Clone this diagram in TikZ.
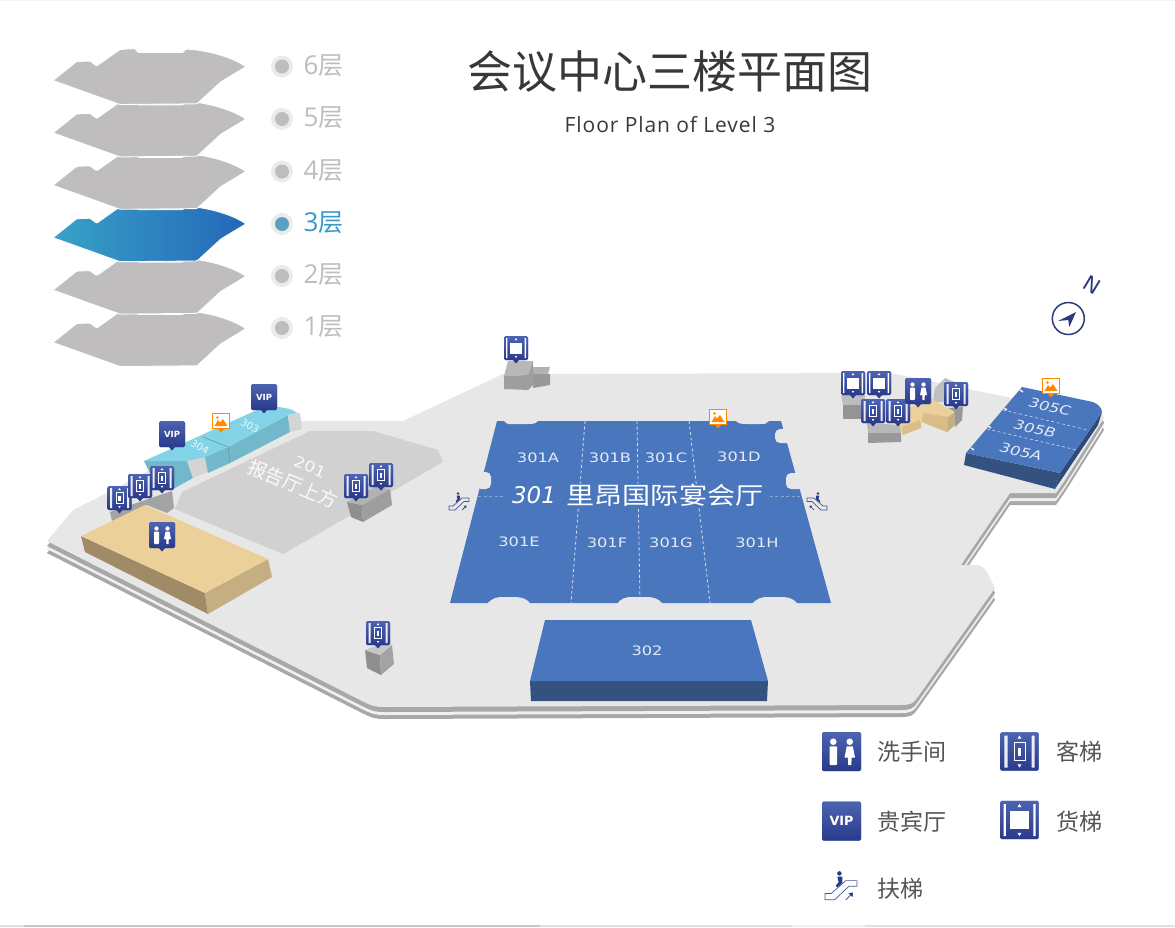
\documentclass[tikz,border=0pt]{standalone}
\usepackage{fontspec}
\setmainfont{DejaVu Sans}
\newfontfamily\cjk{Noto Sans CJK SC}
\newfontfamily\opensans{Open Sans}
\newfontfamily\opensub[LetterSpace=4.3]{Open Sans}
\usetikzlibrary{shadings}
\definecolor{floorc}{HTML}{E7E7E7}
\definecolor{bandc}{HTML}{A8A8A8}
\definecolor{hallc}{HTML}{4A76BD}
\definecolor{hallside}{HTML}{34527F}
\definecolor{hallright}{HTML}{2F4A78}
\definecolor{slabc}{HTML}{BFBDBE}
\definecolor{ic1}{HTML}{4C64B2}
\definecolor{ic2}{HTML}{2A3A8A}
\definecolor{orangec}{HTML}{FF8A00}
\definecolor{legtext}{HTML}{555555}
\definecolor{greytext}{HTML}{BDBDBD}
\definecolor{teal1}{HTML}{83D3E6}
\definecolor{teal2}{HTML}{72B8CB}
\definecolor{tan1}{HTML}{ECD09A}
\definecolor{tan2}{HTML}{A08A68}
\definecolor{tan3}{HTML}{C5AE82}
\definecolor{tan4}{HTML}{D9BC86}
\definecolor{navy}{HTML}{2C3A7A}
\definecolor{sel1}{HTML}{38A2C8}
\definecolor{sel2}{HTML}{2467B8}
\definecolor{sel3}{HTML}{5B9FC3}
\definecolor{sel4}{HTML}{3A97C9}
\def\floorpath{(47,541) -- (73,510) -- (107,493) -- (150,470) -- (300,421) -- (403,421) -- (503,374) -- (890,373) -- (1012,398) -- (1022,388) -- (1100,408) -- (1104,418) -- (1065,480) -- (1056,493) -- (1010,493) -- (961,565) -- (975,565) .. controls (985,565) and (987,572) .. (995,588) -- (917,698) .. controls (913,704) and (910,705) .. (900,705) -- (385,707) .. controls (375,707) and (372,706) .. (362,701) -- cycle}
\def\slabpath{(53,80.5) -- (76.7,61.5) -- (90,61) -- (96.7,66) -- (120,49.5) -- (135,48.5) -- (138,52.5) -- (183,52.5) -- (185.7,49) .. controls (205,50) and (230,56) .. (246,66.7) -- (221,81.7) -- (212,90) -- (197,103.8) -- (120,104.5) -- cycle}
\tikzset{
  base/.style={fill=ic1,rounded corners=1.5pt,top color=ic1,bottom color=ic2,draw=none},
  wh/.style={fill=white,draw=none},
  roomlab/.style={text=white,opacity=.85,font=\fontsize{13}{13}\selectfont,xscale=1.25,inner sep=0pt},
  cjklab/.style={text=legtext,font=\cjk\fontsize{23}{23}\selectfont,inner sep=0pt},
  floorlab/.style={text=greytext,font=\opensans\fontsize{26}{26}\selectfont,inner sep=0pt},
  notch/.style={fill=floorc,draw=none},
  dash1/.style={draw=white,opacity=.75,dashed,dash pattern=on 3pt off 2.5pt,line width=.8pt},
  pics/lift/.style={code={
    \path[base] (-12,-12) rectangle (12,12);
    \path[fill=white,fill opacity=.9] (-9.5,-10) rectangle (-7.5,10) (7.5,-10) rectangle (9.5,10);
    \draw[white,line width=.8pt] (-3.5,-5.5) rectangle (3.5,5.5);
    \path[wh] (-1.2,-2.5) rectangle (1.2,2.5);
    \path[wh] (0,-10) -- (1.3,-8) -- (-1.3,-8) -- cycle (0,10) -- (1.3,8) -- (-1.3,8) -- cycle;
  }},
  pics/freight/.style={code={
    \path[base] (-12,-12) rectangle (12,12);
    \path[wh] (-10,-10) rectangle (-8.6,10) (8.6,-10) rectangle (10,10);
    \path[wh] (-6,-5.5) rectangle (6,5.5);
    \path[wh] (0,-10) -- (1.3,-8) -- (-1.3,-8) -- cycle (0,10) -- (1.3,8) -- (-1.3,8) -- cycle;
  }},
  pics/wc/.style={code={
    \path[base] (-13,-13) rectangle (13,13);
    \path[wh] (-5.5,-6.5) circle (2.2) (5.5,-6.5) circle (2.2);
    \path[wh,rounded corners=.8pt] (-8,-3.5) rectangle (-3,9);
    \path[wh] (3.5,-3.5) -- (7.5,-3.5) -- (9,4) -- (6.8,4) -- (6.5,9) -- (4.5,9) -- (4.2,4) -- (2,4) -- cycle;
  }},
  pics/vip/.style={code={
    \path[base] (-13,-13) rectangle (13,13);
    \node[text=white,font=\fontsize{8.5}{8.5}\selectfont\bfseries,inner sep=0pt,transform shape] at (0,0) {VIP};
  }},
  pics/pin/.style={code={\path[fill=ic2] (-3,0) -- (3,0) -- (0,3.5) -- cycle;}},
  pics/photo/.style={code={
    \path[fill=orangec] (-3,8) -- (3,8) -- (0,11.5) -- cycle;
    \draw[orangec,fill=white,line width=1.4pt] (-8.5,-7.5) rectangle (8.5,7.5);
    \path[fill=orangec] (-6.5,5) -- (-3,-1) -- (-1,1.5) -- (2,-2) -- (6.5,5) -- cycle;
    \path[fill=orangec] (-3.5,-3.5) circle (1.4);
  }},
  pics/esc/.style={code={
    \draw[ic1!85!black,line width=.7pt,line join=round] (-10,4) -- (-6,4) -- (3,-4) -- (10,-4) -- (10,-.5) -- (5,-.5) -- (-4,8) -- (-10,8) -- cycle;
    \path[fill=ic2] (-1,-8.5) circle (1.4);
    \path[fill=ic2] (-2.3,-6.5) -- (.8,-6.5) -- (.8,-2.5) -- (-2.3,.3) -- (-3.3,-.8) -- (-1.5,-3) -- cycle;
    \draw[ic2,line width=.7pt] (3,8) -- (6.5,4.5);
    \path[fill=ic2] (7.5,3.5) -- (7.2,6.3) -- (4.7,3.8) -- cycle;
  }},
}
\begin{document}
\begin{tikzpicture}[x=1pt,y=-1pt]
\useasboundingbox (0,0) rectangle (1175,927);
% page edges
\path[fill=black!4] (0,0) rectangle (1175,1);
\path[fill=black!12] (0,925) rectangle (24,927);
\path[fill=black!22] (24,925) rectangle (540,927);
\path[fill=black!12] (540,925) rectangle (792,927);
\path[fill=black!6] (792,925) rectangle (865,927);
\path[fill=black!12] (865,925) rectangle (1175,927);

% floor
\begin{scope}[yshift=-12pt]\path[fill=bandc] \floorpath;\end{scope}
\begin{scope}[yshift=-8pt]\path[fill=black!6] \floorpath;\end{scope}
\begin{scope}[yshift=-5pt]\path[fill=bandc] \floorpath;\end{scope}
\path[fill=floorc] \floorpath;

% hall 201
\path[fill=black!18] (310,431) -- (373,431) -- (438,450) -- (443,462) -- (283,554) -- (175,509) -- (182,492) -- cycle;
\node[rotate=-23,xscale=1.15,text=white,opacity=.9,font=\fontsize{15}{15}\selectfont,inner sep=0pt] (t201) at (310,467) {201};
\node[rotate=-23,text=white,opacity=.9,font=\cjk\fontsize{19}{19}\selectfont,inner sep=0pt] (t201b) at (293,484) {报告厅上方};

% grey cube under left lifts
\path[fill=black!36] (110,512) -- (172,491) -- (174,508) -- (167,513) -- (147,505) -- (112,521) -- cycle;
% toilets left
\path[fill=tan2] (81,536) -- (205,593) -- (208,614) -- (85,552) -- cycle;
\path[fill=tan3] (205,593) -- (268,559) -- (272,577) -- (208,614) -- cycle;
\path[fill=tan1] (81,536) -- (145,505) -- (268,559) -- (205,593) -- cycle;

% 303 304
\path[fill=teal2] (144,461) -- (187,461) -- (193,478) -- (175,488) -- (150,473) -- cycle;
\path[fill=black!17] (187,460) -- (205,455) -- (208,472) -- (193,478) -- cycle;
\path[fill=teal2] (205,457) -- (228,447) -- (230,463) -- (208,473) -- cycle;
\path[fill=teal2] (228,447) -- (288,415) -- (290,432) -- (230,463) -- cycle;
\path[fill=black!17] (288,415) -- (300,413) -- (302,429) -- (290,432) -- cycle;
\path[fill=teal1] (144,461) -- (268,405) -- (290,409) -- (298,413) -- (288,415) -- (228,447) -- (205,457) -- (187,461) -- cycle;
\draw[teal2!80!black,line width=.5pt] (203,437) -- (228,447) -- (230,463);
\node[rotate=-30,text=white,opacity=.85,inner sep=0pt,font=\fontsize{10}{10}\selectfont] (r303) at (250,426) {303};
\node[rotate=-30,text=white,opacity=.85,inner sep=0pt,font=\fontsize{10}{10}\selectfont] (r304) at (200,447) {304};

% cube by 201
\path[fill=black!44] (347,502) -- (362,505) -- (363,522) -- (351,517) -- cycle;
\path[fill=black!38] (362,505) -- (390,489) -- (392,505) -- (363,522) -- cycle;
\path[fill=black!30] (347,502) -- (375,487) -- (390,489) -- (362,505) -- cycle;
% bottom cube
\path[fill=black!44] (365,650) -- (380,655) -- (381,675) -- (367,668) -- cycle;
\path[fill=black!36] (380,655) -- (392,645) -- (394,664) -- (381,675) -- cycle;
\path[fill=black!22] (365,650) -- (385,642) -- (392,645) -- (380,655) -- cycle;
% top cubes
\path[fill=black!30] (533,367) -- (550,367) -- (548,374) -- (533,374) -- cycle;
\path[fill=black!40] (533,374) -- (550,374) -- (550,385) -- (533,388) -- cycle;
\path[fill=black!28] (508,361) -- (533,361) -- (528,375) -- (504,376) -- cycle;
\path[fill=black!38] (504,376) -- (528,375) -- (533,361) -- (533,385) -- (528,390) -- (504,389) -- cycle;

% right cluster
\path[fill=black!26] (841,395) -- (865,395) -- (865,405) -- (843,405) -- cycle;
\path[fill=black!42] (843,405) -- (865,405) -- (865,419) -- (843,419) -- cycle;
\path[fill=black!25] (935,388) -- (945,378) -- (957,383) -- (955,402) -- (933,402) -- cycle;
\path[fill=tan1] (910,407) -- (932,399) -- (955,413) -- (955,425) -- (947,432) -- (922,422) -- (921,428) -- (903,435) -- (898,425) -- cycle;
\path[fill=tan4] (923,413) -- (948,417) -- (947,432) -- (922,422) -- cycle;
\path[fill=tan3] (948,417) -- (955,412) -- (955,425) -- (947,432) -- cycle;
\path[fill=tan4] (902,427) -- (920,420) -- (921,428) -- (903,435) -- cycle;
\path[fill=black!40] (948,408) -- (963,407) -- (962,420) -- (955,427) -- (955,412) -- cycle;
\path[fill=black!28] (867,423) -- (900,425) -- (901,433) -- (868,433) -- cycle;
\path[fill=black!40] (868,433) -- (901,433) -- (901,442) -- (868,443) -- cycle;

% block 305
\path[fill=hallside] (966,453) -- (1060,473) -- (1055,489) -- (964,465) -- cycle;
\path[fill=hallright] (1060,473) -- (1102,412) -- (1098,425) -- (1055,489) -- cycle;
\path[fill=hallc] (966,453) -- (1060,473) -- (1102,412) .. controls (1102,408) and (1098,404) .. (1093,402) -- (1022,387) -- cycle;
\draw[dash1,line width=.6pt] (1003,410) -- (1088,430);
\draw[dash1,line width=.6pt] (987,429) -- (1077,450);
\draw[floorc,line width=1.6pt] (1020,390) -- (1023,392) (1004,408) -- (1007,410) (988,426) -- (991,428) (971,448) -- (974,450);
\node[rotate=-13,roomlab,font=\fontsize{13}{13}\selectfont\itshape] (r305c) at (1050,407) {305C};
\node[rotate=-13,roomlab,font=\fontsize{13}{13}\selectfont\itshape] (r305b) at (1035,429) {305B};
\node[rotate=-13,roomlab,font=\fontsize{13}{13}\selectfont\itshape] (r305a) at (1021,452) {305A};

% hall 301
\path[fill=hallc] (497,421) -- (781,421) -- (831,603) -- (450,603) -- cycle;
\path[notch] (504,421) .. controls (507,425) and (510,424) .. (515,424) -- (527,424) .. controls (533,424) and (535,424) .. (538,421) -- cycle;
\path[notch] (736,421) .. controls (739,424) and (742,424) .. (747,424) -- (759,424) .. controls (765,424) and (767,424) .. (769,421) -- cycle;
\path[notch,rounded corners=5pt] (775,429) rectangle (792,443);
\path[notch,rounded corners=5pt] (476,472) rectangle (491,489);
\path[notch,rounded corners=5pt] (786,473) rectangle (804,489);
\path[notch] (487,604) .. controls (492,598) and (497,597) .. (503,597) -- (515,597) .. controls (522,597) and (527,599) .. (531,604) -- cycle;
\path[notch] (617,604) .. controls (621,598) and (626,597) .. (632,597) -- (647,597) .. controls (654,597) and (659,599) .. (663,604) -- cycle;
\path[notch] (752,604) .. controls (757,598) and (762,597) .. (768,597) -- (782,597) .. controls (789,597) and (794,599) .. (798,604) -- cycle;
\draw[dash1] (585,421) -- (571,603);
\draw[dash1] (637,421) -- (640,603);
\draw[dash1] (689,421) -- (710,603);
\draw[dash1,opacity=.35] (478,496) -- (802,496);
\path[fill=hallc] (505,484) rectangle (770,508);
\node[roomlab] (r301a) at (538,458) {301A};
\node[roomlab] (r301b) at (610,458) {301B};
\node[roomlab] (r301c) at (666,458) {301C};
\node[roomlab] (r301d) at (739,457) {301D};
\node[roomlab] (r301e) at (519,542) {301E};
\node[roomlab] (r301f) at (607,543) {301F};
\node[roomlab] (r301g) at (671,543) {301G};
\node[roomlab] (r301h) at (757,543) {301H};
\node[text=white,inner sep=0pt,font=\fontsize{23}{23}\selectfont\itshape] (r301) at (534,495) {301};
\node[text=white,inner sep=0pt,font=\cjk\fontsize{24}{24}\selectfont,xscale=1.17] (r301n) at (665,495) {里昂国际宴会厅};

% hall 302
\path[fill=hallside] (530,681) -- (768,681) -- (767,701) -- (531,701) -- cycle;
\path[fill=hallc] (545,620) -- (751,620) -- (768,681) -- (530,681) -- cycle;
\node[roomlab] (r302) at (647,651) {302};

% escalators
\pic at (459,502) {esc};
\pic[xscale=-1] at (817,502) {esc};

% markers
\foreach \x/\y in {119.5/498,140/486,162/478,356/486,381/475,378/633,873/411,898/411,956/394}{
  \pic at (\x,\y+12) {pin};
  \pic at (\x,\y) {lift};
}
\foreach \x/\y in {516/348,853/383,879/383}{
  \pic at (\x,\y+12) {pin};
  \pic at (\x,\y) {freight};
}
\foreach \x/\y in {162/535,918/391}{
  \pic at (\x,\y+13) {pin};
  \pic at (\x,\y) {wc};
}
\foreach \x/\y in {264/397,172/434}{
  \pic at (\x,\y+13) {pin};
  \pic at (\x,\y) {vip};
}
\foreach \x/\y in {221/421,1051/386,718/417}{
  \pic at (\x,\y) {photo};
}

% floor selector
\foreach \i/\c in {5/0,4/0,3/1,2/0,1/0,0/0}{
  \begin{scope}[yshift=-\i*52.4pt]
    \ifnum\c=1
      \path[draw=white,line width=.9pt,line join=round,rounded corners=1pt,left color=sel1,right color=sel2] \slabpath;
    \else
      \path[draw=white,line width=.9pt,line join=round,rounded corners=1pt,fill=slabc] \slabpath;
    \fi
  \end{scope}
}
\foreach \y/\t in {66.5/6,119/5,171.5/4,276/2,328/1}{
  \path[fill=black!8] (282,\y) circle (11);
  \path[fill=black!26] (282,\y) circle (7);
  \node[floorlab] at (323.5,\y-1) {\t\cjk\fontsize{25}{25}\selectfont 层};
}
\path[fill=black!8] (282,224) circle (11);
\path[fill=sel3] (282,224) circle (7);
\node[floorlab,text=sel4] (f3) at (323.5,223) {3\cjk\fontsize{25}{25}\selectfont 层};

% title
\node[text=black!78,inner sep=0pt,font=\cjk\fontsize{45}{45}\selectfont] (title) at (670,72) {会议中心三楼平面图};
\node[text=black!78,inner sep=0pt,font=\opensub\fontsize{21}{21}\selectfont] (subtitle) at (670,125) {Floor Plan of Level 3};

% compass
\draw[navy,line width=1.5pt] (1068.3,318.5) circle (16);
\path[fill=navy] (1076,312) -- (1069.3,327) -- (1068.3,320) -- (1058,321) -- cycle;
\node[text=navy,inner sep=0pt,font=\fontsize{21}{21}\selectfont,rotate=-31] (north) at (1092.5,285) {N};

% legend
\pic[scale=1.5,transform shape] at (841.5,751.5) {wc};
\pic[scale=1.6,transform shape] at (1019.5,751.5) {lift};
\pic[scale=1.5,transform shape] at (841.5,821) {vip};
\pic[scale=1.6,transform shape] at (1019.5,820) {freight};
\pic[scale=1.6] at (841,887) {esc};
\node[cjklab] (l1) at (912,752) {洗手间};
\node[cjklab] (l2) at (1079,752) {客梯};
\node[cjklab] (l3) at (912,822) {贵宾厅};
\node[cjklab] (l4) at (1079,822) {货梯};
\node[cjklab] (l5) at (900,889) {扶梯};
\end{tikzpicture}
\end{document}
